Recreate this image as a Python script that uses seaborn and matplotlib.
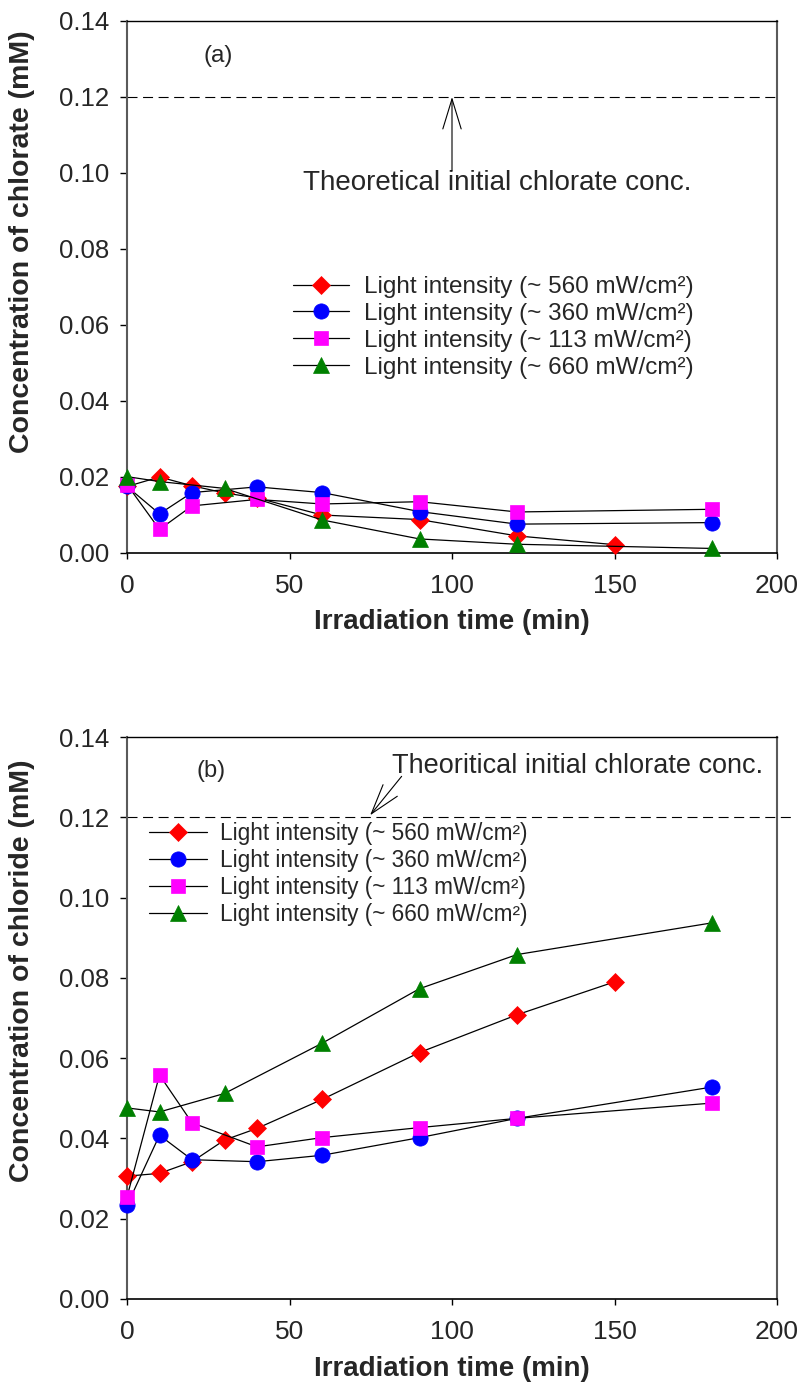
import matplotlib
matplotlib.use("Agg")
import matplotlib.pyplot as plt
import seaborn as sns
from matplotlib import font_manager

# ---- measured data: irradiation time (min) vs concentration (mM) ----
time_560 = [0, 10, 20, 30, 40, 60, 90, 120, 150]
time_360 = [0, 10, 20, 40, 60, 90, 120, 180]
time_113 = [0, 10, 20, 40, 60, 90, 120, 180]
time_660 = [0, 10, 30, 60, 90, 120, 180]

chlorate_560 = [0.0175, 0.0200, 0.0177, 0.0158, 0.0145, 0.0100, 0.0088, 0.0045, 0.0022]
chlorate_360 = [0.0175, 0.0103, 0.0159, 0.0174, 0.0159, 0.0109, 0.0076, 0.0080]
chlorate_113 = [0.0180, 0.0062, 0.0124, 0.0141, 0.0129, 0.0135, 0.0108, 0.0115]
chlorate_660 = [0.0201, 0.0188, 0.0170, 0.0087, 0.0037, 0.0023, 0.0012]

chloride_560 = [0.0306, 0.0313, 0.0342, 0.0396, 0.0425, 0.0497, 0.0614, 0.0708, 0.0790]
chloride_360 = [0.0233, 0.0408, 0.0347, 0.0342, 0.0358, 0.0402, 0.0450, 0.0528]
chloride_113 = [0.0254, 0.0558, 0.0439, 0.0379, 0.0402, 0.0427, 0.0450, 0.0488]
chloride_660 = [0.0476, 0.0466, 0.0512, 0.0637, 0.0773, 0.0858, 0.0937]

series_labels = [
    "Light intensity (~ 560 mW/cm²)",
    "Light intensity (~ 360 mW/cm²)",
    "Light intensity (~ 113 mW/cm²)",
    "Light intensity (~ 660 mW/cm²)",
]
x_ticks = [0, 50, 100, 150, 200]
y_ticks = [0.00, 0.02, 0.04, 0.06, 0.08, 0.10, 0.12, 0.14]
theoretical_conc = 0.12

# ---- styling ----
sns.set_theme(style="white")
_names = {f.name for f in font_manager.fontManager.ttflist}
SANS = "Liberation Sans"
NARROW = "Liberation Sans Narrow" if "Liberation Sans Narrow" in _names else SANS
plt.rcParams["font.family"] = [SANS, "DejaVu Sans"]

colors = ["#ff0000", "#0000ff", "#ff00ff", "#008000"]
markers = ["D", "o", "s", "^"]
msizes = [9.0, 11.0, 10.5, 12.0]

fig = plt.figure(figsize=(8.02, 13.84), dpi=100)
W, H = 802.0, 1384.0
ax_a = fig.add_axes([127 / W, 1 - 553 / H, 650 / W, 532 / H])
ax_b = fig.add_axes([127 / W, 1 - 1299 / H, 650 / W, 562 / H])


def draw_panel(ax, times, values):
    for t, v, c, m, s, lab in zip(times, values, colors, markers, msizes, series_labels):
        sns.lineplot(x=t, y=v, ax=ax, color="black", linewidth=0.9,
                     marker=m, markersize=s, markerfacecolor=c,
                     markeredgecolor=c, markeredgewidth=0.5,
                     label=lab, estimator=None, sort=False, clip_on=False,
                     zorder=3)


def style_axes(ax, ylabel, ylab_y):
    ax.set_xlim(0, 200)
    ax.set_ylim(0, 0.14)
    ax.set_xticks(x_ticks)
    ax.set_yticks(y_ticks)
    ax.set_xticklabels([f"{v:d}" for v in x_ticks])
    ax.set_yticklabels([f"{v:.2f}" for v in y_ticks])
    ax.tick_params(axis="x", direction="out", length=4, width=1.0,
                   color="black", pad=11, labelsize=19, bottom=True)
    ax.tick_params(axis="y", direction="out", length=5, width=1.0,
                   color="black", pad=8, labelsize=18.5, left=True)
    for lab in ax.get_xticklabels() + ax.get_yticklabels():
        lab.set_family([NARROW, SANS])
    ax.spines["left"].set_color("#5a5a5a")
    ax.spines["right"].set_color("#5a5a5a")
    ax.spines["left"].set_linewidth(1.5)
    ax.spines["right"].set_linewidth(1.5)
    ax.spines["bottom"].set_color("black")
    ax.spines["top"].set_color("black")
    ax.spines["bottom"].set_linewidth(1.2)
    ax.spines["top"].set_linewidth(1.0)
    ax.set_xlabel("Irradiation time (min)", fontsize=20, fontweight="bold",
                  family=[NARROW, SANS])
    ax.set_ylabel(ylabel, fontsize=20.5, fontweight="bold")
    ax.yaxis.set_label_coords(-0.1415, ylab_y)
    ax.grid(False)


arrow_style = "->,head_length=1.8,head_width=0.55"

# ---- panel (a): chlorate ----
draw_panel(ax_a, [time_560, time_360, time_113, time_660],
           [chlorate_560, chlorate_360, chlorate_113, chlorate_660])
ax_a.axhline(theoretical_conc, color="black", linewidth=0.8,
             linestyle=(0, (9, 5)), zorder=1)
style_axes(ax_a, "Concentration of chlorate (mM)", 0.585)
ax_a.xaxis.set_label_coords(0.5, -0.105)
ax_a.text(28, 0.1308, "(a)", fontsize=17.5, ha="center", va="center")
ax_a.text(114, 0.0973, "Theoretical initial chlorate conc.", fontsize=20,
          ha="center", va="center")
ax_a.annotate("", xy=(100, theoretical_conc), xytext=(100, 0.1005),
              arrowprops=dict(arrowstyle=arrow_style,
                              color="black", lw=0.8, shrinkA=0, shrinkB=0))
ax_a.legend(loc="upper left", bbox_to_anchor=((293 - 127) / 650, (553 - 276) / 532),
            frameon=False, fontsize=17.5, borderpad=0, borderaxespad=0,
            handlelength=2.3, handletextpad=0.62, labelspacing=0.2)

# ---- panel (b): chloride ----
draw_panel(ax_b, [time_560, time_360, time_113, time_660],
           [chloride_560, chloride_360, chloride_113, chloride_660])
ax_b.plot([0, 205], [theoretical_conc, theoretical_conc], color="black",
          linewidth=0.8, linestyle=(0, (9, 5)), zorder=1, clip_on=False)
style_axes(ax_b, "Concentration of chloride (mM)", 0.584)
ax_b.xaxis.set_label_coords(0.5, -0.102)
ax_b.text(26, 0.1316, "(b)", fontsize=17, ha="center", va="center",
          family=[NARROW, SANS])
ax_b.text(81.6, 0.1328, "Theoritical initial chlorate conc.", fontsize=19.5,
          ha="left", va="center", family=[NARROW, SANS])
ax_b.annotate("", xy=(74.8, 0.1205), xytext=(84.5, 0.1302),
              arrowprops=dict(arrowstyle=arrow_style,
                              color="black", lw=0.8, shrinkA=0, shrinkB=0))
leg_b = ax_b.legend(loc="upper left",
                    bbox_to_anchor=((149 - 127) / 650, (1299 - 822) / 562),
                    frameon=False, fontsize=16.3, borderpad=0, borderaxespad=0,
                    handlelength=2.55, handletextpad=0.6, labelspacing=0.17)
for txt in leg_b.get_texts():
    txt.set_family([NARROW, SANS])

fig.savefig("out.png", dpi=100)
